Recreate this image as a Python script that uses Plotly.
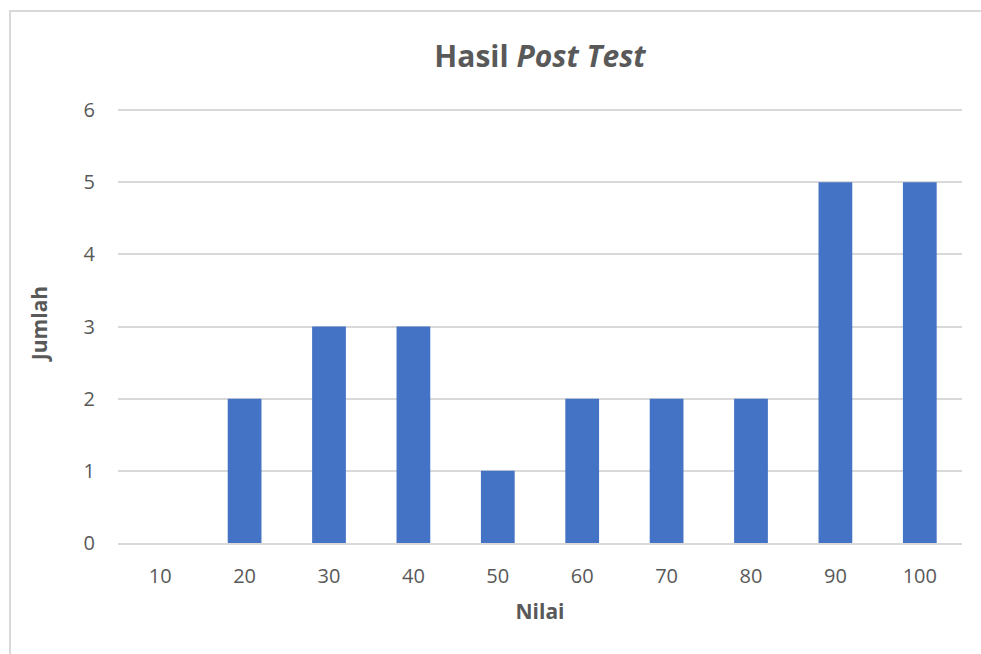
import plotly.graph_objects as go

# data
nilai = ["10", "20", "30", "40", "50", "60", "70", "80", "90", "100"]
jumlah = [0, 2, 3, 3, 1, 2, 2, 2, 5, 5]
y_ticks = [0, 1, 2, 3, 4, 5, 6]

W, H = 981, 654
L, R, T, B = 118, 19, 103, 111
pw, ph = W - L - R, H - T - B

FONT = "Open Sans"
GREY = "#595959"
LINE = "#d9d9d9"

fig = go.Figure()
fig.add_trace(go.Bar(
    x=nilai, y=jumlah,
    marker=dict(color="#4472C4", line=dict(width=0)),
    width=0.4,
    hoverinfo="x+y",
))

# thin grey chart border (Excel-style frame, cropped at right/bottom)
fig.add_shape(
    type="rect", xref="paper", yref="paper",
    x0=(10 - L) / pw, x1=(W + 5 - L) / pw,
    y0=-(B + 5) / ph, y1=(H - 11 - B) / ph,
    line=dict(color=LINE, width=2), fillcolor="rgba(0,0,0,0)",
    layer="below",
)

fig.update_layout(
    width=W, height=H,
    margin=dict(l=L, r=R, t=T, b=B),
    plot_bgcolor="white", paper_bgcolor="white",
    showlegend=False,
    font=dict(family=FONT, color=GREY, size=20),
    title=dict(
        text="<b>Hasil <i>Post Test</i></b>",
        x=0.5, xref="paper", xanchor="center",
        y=1 - 56 / H, yanchor="middle",
        font=dict(family=FONT, size=30, color=GREY),
    ),
    xaxis=dict(
        type="category",
        showgrid=False, zeroline=False,
        showline=True, linecolor=LINE, linewidth=2,
        ticks="", ticklabelstandoff=14,
        title=dict(text="<b>Nilai</b>", standoff=16,
                   font=dict(family=FONT, size=21, color=GREY)),
    ),
    yaxis=dict(
        range=[0, 6.1], tickvals=y_ticks,
        showgrid=True, gridcolor=LINE, gridwidth=2,
        zeroline=False, showline=False,
        ticks="", ticklabelstandoff=22,
        title=dict(text="<b>Jumlah</b>", standoff=30,
                   font=dict(family=FONT, size=21, color=GREY)),
    ),
)

fig.write_html("out.html", config={"displayModeBar": False},
               post_script="document.body.style.margin='0';")
